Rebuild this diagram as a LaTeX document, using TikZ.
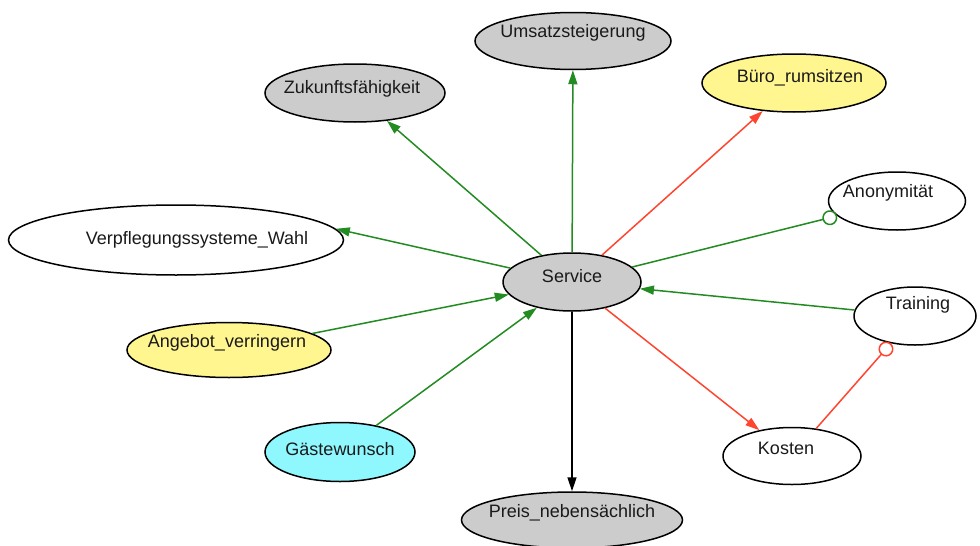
\documentclass[tikz,border=0pt]{standalone}
\usepackage{fontspec}
\setmainfont{Liberation Sans}
\usetikzlibrary{shapes.geometric,arrows.meta}

\definecolor{nodegray}{HTML}{CCCCCC}
\definecolor{nodeyellow}{HTML}{FFF68F}
\definecolor{nodecyan}{HTML}{8FF8FF}
\definecolor{posgreen}{HTML}{228B22}
\definecolor{negred}{HTML}{FF4530}
\definecolor{labelink}{HTML}{1A1A1A}

\tikzset{
  el/.style={ellipse, draw=black, line width=1.5pt, inner sep=0pt},
  txt/.style={font=\fontsize{18}{22}\selectfont, text=labelink},
  posarrow/.style={draw=posgreen, line width=1.5pt, -{Triangle[length=14pt,width=9pt]}},
  negarrow/.style={draw=negred, line width=1.5pt, -{Triangle[length=14pt,width=9pt]}},
  poscircle/.style={draw=posgreen, line width=1.5pt, -{Circle[open,length=15pt,width=15pt,line width=1.5pt]}},
  negcircle/.style={draw=negred, line width=1.5pt, -{Circle[open,length=15pt,width=15pt,line width=1.5pt]}},
  plainarrow/.style={draw=black, line width=1.5pt, -{Triangle[length=14pt,width=9pt]}}
}

\begin{document}
\begin{tikzpicture}[x=1pt,y=-1pt]
\useasboundingbox (0,0) rectangle (980,546);

% concept nodes
\node[el, fill=nodegray, minimum width=138, minimum height=58,
      label={[txt,yshift=6pt]center:Service}] (service) at (572,282) {};
\node[el, fill=nodegray, minimum width=196, minimum height=57,
      label={[txt,yshift=8pt]center:Umsatzsteigerung}] (umsatz) at (573,41) {};
\node[el, fill=nodegray, minimum width=180, minimum height=58,
      label={[txt,xshift=-3pt,yshift=4pt]center:Zukunftsfähigkeit}] (zukunft) at (355,93) {};
\node[el, fill=nodeyellow, minimum width=184, minimum height=58,
      label={[txt,xshift=6pt,yshift=5pt]center:Büro\_rumsitzen}] (buero) at (794,83) {};
\node[el, fill=white, minimum width=137, minimum height=58,
      label={[txt,xshift=-9pt,yshift=8pt]center:Anonymität}] (anon) at (897,201) {};
\node[el, fill=white, minimum width=335, minimum height=70,
      label={[txt,xshift=21pt]center:Verpflegungssysteme\_Wahl}] (verpfl) at (176,240) {};
\node[el, fill=nodeyellow, minimum width=204, minimum height=55,
      label={[txt,xshift=-2pt,yshift=7pt]center:Angebot\_verringern}] (angebot) at (229,350) {};
\node[el, fill=nodecyan, minimum width=150, minimum height=59,
      label={[txt,yshift=3pt]center:Gästewunsch}] (gaeste) at (340,452) {};
\node[el, fill=white, minimum width=122, minimum height=58,
      label={[txt,xshift=3pt,yshift=11pt]center:Training}] (training) at (915,316) {};
\node[el, fill=white, minimum width=138, minimum height=57,
      label={[txt,xshift=-6pt,yshift=8pt]center:Kosten}] (kosten) at (792,456) {};
\node[el, fill=nodegray, minimum width=221, minimum height=56,
      label={[txt,yshift=7pt]center:Preis\_nebensächlich}] (preis) at (572,520) {};

% influences
\draw[posarrow] (service) -- (umsatz);
\draw[posarrow] (service) -- (zukunft);
\draw[negarrow] (service) -- (buero);
\draw[poscircle] (service) -- (anon);
\draw[posarrow] (service) -- (verpfl.4);
\draw[posarrow] (angebot) -- (service);
\draw[posarrow] (gaeste) -- (service);
\draw[posarrow] (training) -- (service);
\draw[negarrow] (service) -- (kosten);
\draw[plainarrow] (service) -- (preis);
\draw[negcircle] (kosten) -- (training);
\end{tikzpicture}
\end{document}
